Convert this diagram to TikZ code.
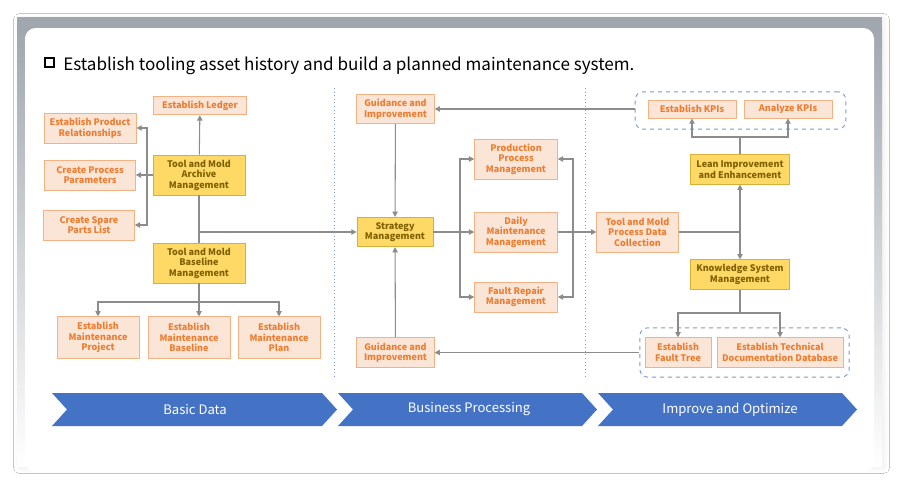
\documentclass[tikz,border=0pt]{standalone}
\usepackage{fontspec}
\setmainfont{Noto Sans CJK SC}
\usepackage{tikz}
\usetikzlibrary{arrows.meta}
\usetikzlibrary{shadows.blur}
\definecolor{boxfill}{HTML}{FBE5D6}
\definecolor{boxline}{HTML}{F4B183}
\definecolor{boxtext}{HTML}{ED7D31}
\definecolor{corefill}{HTML}{FFD966}
\definecolor{coreline}{HTML}{D9AE3A}
\definecolor{coretext}{HTML}{7F6000}
\definecolor{linegray}{HTML}{8C8C8C}
\definecolor{chevblue}{HTML}{4472C4}
\definecolor{groupline}{HTML}{7F9BCF}
\definecolor{framegray}{HTML}{A0A7AF}

\begin{document}
\begin{tikzpicture}[x=0.75pt, y=-0.75pt,
    sub/.style={draw=boxline, fill=boxfill, text=boxtext, line width=0.6pt,
      font=\bfseries\fontsize{6.8}{7.9}\selectfont, align=center, inner sep=1pt},
    core/.style={sub, draw=coreline, fill=corefill, text=coretext},
    arr/.style={draw=linegray, line width=0.8pt, -{Triangle[length=4pt,width=4pt]}},
    lin/.style={draw=linegray, line width=0.8pt},
    group/.style={draw=groupline, dashed, rounded corners=6pt, line width=0.7pt},
    divider/.style={draw=groupline, dotted, line width=0.7pt},
    chev/.style={fill=chevblue},
    chevtext/.style={text=white, font=\fontsize{9.8}{11}\selectfont}]
    \useasboundingbox (0,0) rectangle (899,483);
    \fill[white] (0,0) rectangle (899,483);
    \path[fill=white, blur shadow={shadow xshift=1.5pt, shadow yshift=-1.5pt,
      shadow blur radius=4pt, shadow opacity=7}] (17,17) rectangle (882,466);
    \fill[framegray] (17,17) rectangle (882,30);
    \shade[top color=framegray, bottom color=white] (17,29) rectangle (882,466);
    \fill[white, rounded corners=8pt] (25,28) rectangle (874,472);

    \draw[line width=1.6pt] (45,58) rectangle (54,67);
    \node[anchor=base west, inner sep=0pt, font=\fontsize{12.8}{14}\selectfont] (title) at (63,70)
      {Establish tooling asset history and build a planned maintenance system.};

    \draw[divider] (334,88) -- (334,378);
    \draw[divider] (585,88) -- (585,378);

    \node[sub, minimum width=70pt, minimum height=14pt] (ledger) at (200,105.5) {Establish Ledger};
    \node[sub, minimum width=69pt, minimum height=22.5pt] (prodrel) at (90,128) {Establish Product\\Relationships};
    \node[sub, minimum width=68pt, minimum height=22.5pt] (procpar) at (90,175) {Create Process\\Parameters};
    \node[sub, minimum width=68pt, minimum height=22.5pt] (spare) at (89,225) {Create Spare\\Parts List};
    \node[core, minimum width=69pt, minimum height=30pt] (archive) at (199,175) {Tool and Mold\\Archive\\Management};
    \node[core, minimum width=69pt, minimum height=30pt] (baseline) at (199,263) {Tool and Mold\\Baseline\\Management};
    \node[sub, minimum width=61.5pt, minimum height=31pt] (mproj) at (98,337.5) {Establish\\Maintenance\\Project};
    \node[sub, minimum width=61.5pt, minimum height=31pt] (mbase) at (189,337.5) {Establish\\Maintenance\\Baseline};
    \node[sub, minimum width=61.5pt, minimum height=31pt] (mplan) at (279,337.5) {Establish\\Maintenance\\Plan};

    \node[sub, minimum width=58pt, minimum height=22pt] (guidetop) at (395.5,109) {Guidance and\\Improvement};
    \node[core, minimum width=57pt, minimum height=22pt] (strategy) at (395,232) {Strategy\\Management};
    \node[sub, minimum width=58pt, minimum height=22pt] (guidebot) at (395.5,352.5) {Guidance and\\Improvement};
    \node[sub, minimum width=62pt, minimum height=30pt] (prodproc) at (516,159) {Production\\Process\\Management};
    \node[sub, minimum width=62pt, minimum height=30pt] (daily) at (516,232) {Daily\\Maintenance\\Management};
    \node[sub, minimum width=62pt, minimum height=22.5pt] (fault) at (516,297) {Fault Repair\\Management};

    \node[group, minimum width=158pt, minimum height=28pt] (kpigroup) at (740.5,110.5) {};
    \node[sub, minimum width=66pt, minimum height=13.5pt] (estkpi) at (692,109) {Establish KPIs};
    \node[sub, minimum width=66pt, minimum height=13.5pt] (anakpi) at (788,109) {Analyze KPIs};
    \node[core, minimum width=74pt, minimum height=22pt] (lean) at (740,169.5) {Lean Improvement\\and Enhancement};
    \node[sub, minimum width=61pt, minimum height=30pt] (collect) at (637.5,232) {Tool and Mold\\Process Data\\Collection};
    \node[core, minimum width=74pt, minimum height=22pt] (knowledge) at (740,274.5) {Knowledge System\\Management};
    \node[group, minimum width=157pt, minimum height=37pt] (repgroup) at (744.5,352.5) {};
    \node[sub, minimum width=49.5pt, minimum height=22pt] (faulttree) at (678,352.5) {Establish\\Fault Tree};
    \node[sub, minimum width=94.5pt, minimum height=22pt] (techdoc) at (780,352.5) {Establish Technical\\Documentation Database};

    \coordinate (brk) at (147,175);
    \coordinate (split) at (199,232);
    \coordinate (bfork) at (199,302);
    \coordinate (lbr) at (460,232);
    \coordinate (rbr) at (573,232);
    \coordinate (vmid) at (740,232);
    \coordinate (kfork) at (740,137);
    \coordinate (rfork) at (740,313);

    \draw[arr] (archive) -- (ledger);
    \draw[arr] (archive.west) -- (procpar.east);
    \draw[arr] (brk) |- (prodrel.east);
    \draw[arr] (brk) |- (spare.east);
    \draw[lin] (archive) -- (baseline);
    \draw[arr] (split) -- (strategy.west);
    \draw[lin] (baseline.south) -- (bfork);
    \draw[arr] (bfork) -| (mproj.north);
    \draw[arr] (bfork) -| (mplan.north);
    \draw[arr] (bfork) -- (bfork |- mbase.north);

    \draw[arr] (guidetop) -- (strategy);
    \draw[arr] (guidebot) -- (strategy);
    \draw[arr] (strategy) -- (daily);
    \draw[arr] (lbr) |- (prodproc.west);
    \draw[arr] (lbr) |- (fault.west);
    \draw[arr] (rbr) |- (prodproc.east);
    \draw[arr] (rbr) |- (fault.east);
    \draw[arr] (daily) -- (collect);
    \draw[arr] (kpigroup.west |- guidetop) -- (guidetop.east);
    \draw[arr] (repgroup.west) -- (guidebot.east);

    \draw[lin] (collect.east) -- (vmid);
    \draw[arr] (vmid) -- (lean.south);
    \draw[arr] (vmid) -- (knowledge.north);
    \draw[lin] (lean.north) -- (kfork);
    \draw[arr] (kfork) -| (estkpi.south);
    \draw[arr] (kfork) -| (anakpi.south);
    \draw[lin] (knowledge.south) -- (rfork);
    \draw[arr] (rfork) -| (faulttree.north);
    \draw[arr] (rfork) -| (techdoc.north);

    \fill[chev] (52,393) -- (322,393) -- (337,409.5) -- (322,426) -- (52,426) -- (67,409.5) -- cycle;
    \fill[chev] (338,393) -- (582,393) -- (597,409.5) -- (582,426) -- (338,426) -- (353,409.5) -- cycle;
    \fill[chev] (598,393) -- (842,393) -- (857,409.5) -- (842,426) -- (598,426) -- (613,409.5) -- cycle;
    \node[chevtext] (basic) at (195,409.5) {Basic Data};
    \node[chevtext] (business) at (469,409.5) {Business Processing};
    \node[chevtext] (improve) at (730,409.5) {Improve and Optimize};
\end{tikzpicture}
\end{document}
